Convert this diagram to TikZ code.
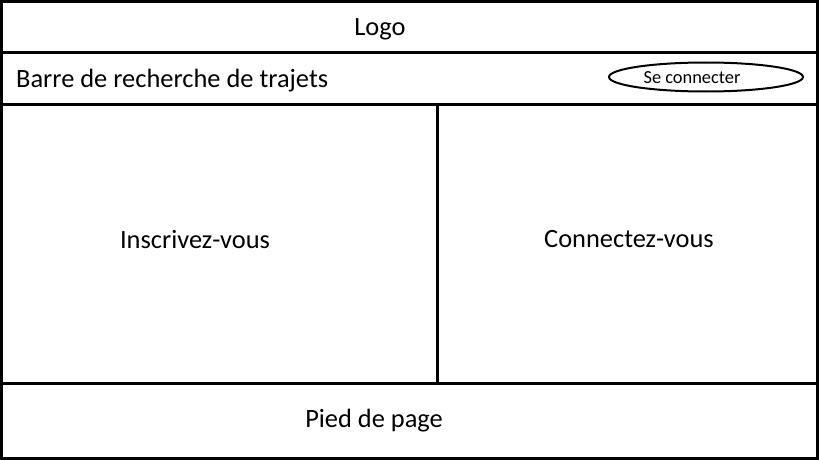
\documentclass[tikz,border=0pt]{standalone}
\usepackage{fontspec}
\setmainfont{Carlito}
\usetikzlibrary{shapes.geometric}
\begin{document}
\begin{tikzpicture}[x=1pt,y=-1pt,
  frame/.style={line width=3pt},
  lbl/.style={font=\fontsize{26.4}{30}\selectfont, inner sep=0pt},
  small/.style={font=\fontsize{18.4}{21}\selectfont, inner sep=0pt}]
\useasboundingbox[fill=white] (0,0) rectangle (819,460);
\draw[frame] (1.5,1.5) rectangle (817.5,458.5);
\coordinate (l1) at (1.5,53); \coordinate (r1) at (817.5,53);
\coordinate (l2) at (1.5,104); \coordinate (r2) at (817.5,104);
\coordinate (l3) at (1.5,383.5); \coordinate (r3) at (817.5,383.5);
\coordinate (vt) at (437,104); \coordinate (vb) at (437,383.5);
\draw[frame] (l1) -- (r1);
\draw[frame] (l2) -- (r2);
\draw[frame] (l3) -- (r3);
\draw[frame] (vt) -- (vb);
\node[lbl] (logo) at (380,29) {Logo};
\node[lbl, anchor=west] (barre) at (16,81) {Barre de recherche de trajets};
\node[draw, ellipse, line width=2pt, minimum width=194pt, minimum height=29pt, inner sep=0pt] (conn) at (706,77) {};
\node[small] (connt) at (692,77.5) {Se connecter};
\node[lbl] (insc) at (195,240) {Inscrivez-vous};
\node[lbl] (cnx) at (629,239) {Connectez-vous};
\node[lbl] (pied) at (374,421) {Pied de page};
\end{tikzpicture}
\end{document}
